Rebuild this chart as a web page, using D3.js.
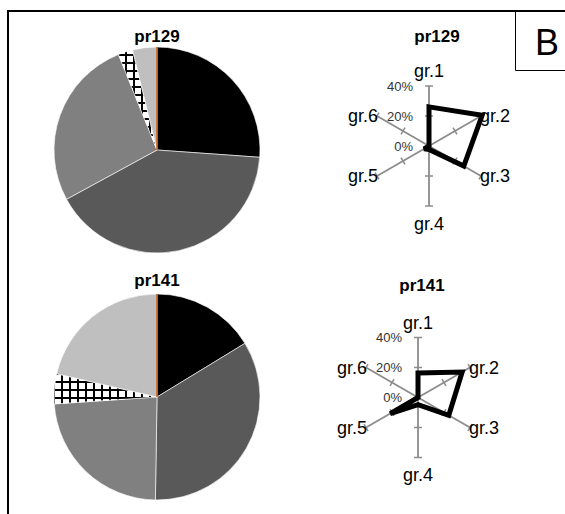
<!DOCTYPE html>
<html><head><meta charset="utf-8">
<script src="https://cdn.jsdelivr.net/npm/d3@7"></script>
<style>body{margin:0;background:#fff}svg{display:block;font-family:"Liberation Sans",Arial,sans-serif}</style>
</head><body>
<svg id="c" width="565" height="514"></svg>
<script>
const groups = ["gr.1","gr.2","gr.3","gr.4","gr.5","gr.6"];
const samples = ["pr129","pr141"];
const pr129 = [26.1, 40.9, 26.8, 2.3, 3.8, 0];
const pr141 = [16.3, 34.0, 23.7, 4.7, 21.4, 0];
const radialTicks = [0, 20, 40];
const panelLetter = "B";

const seriesBySample = {pr129, pr141};
const sliceFill = ["#000000","#595959","#808080","url(#hatch)","#bfbfbf","none"];

const svg = d3.select("#c");
const defs = svg.append("defs");
const pat = defs.append("pattern").attr("id","hatch").attr("patternUnits","userSpaceOnUse")
  .attr("width",8).attr("height",8);
pat.append("rect").attr("width",8).attr("height",8).attr("fill","#fff");
pat.append("path").attr("d","M1,0V8M0,1H8").attr("stroke","#000").attr("stroke-width",2);

// frame
svg.append("path").attr("d","M8,600V11H570").attr("fill","none").attr("stroke","#000").attr("stroke-width",2);
svg.append("path").attr("d","M515.5,11V70.5H570").attr("fill","none").attr("stroke","#000").attr("stroke-width",1);
svg.append("text").attr("x",547).attr("y",55).attr("text-anchor","middle").attr("font-size",36).text(panelLetter);

const layout = [
  {pie:[157,150], pieTitle:[157,42], radar:[429,146], radarTitle:[437,42]},
  {pie:[157,397], pieTitle:[157,286], radar:[418,397.5], radarTitle:[422,291]}
];

const pie = d3.pie().sort(null).value(d=>d.v).startAngle(0).endAngle(2*Math.PI);
const arc = d3.arc().innerRadius(0).outerRadius(103);
const rScale = d3.scaleLinear().domain([0,40]).range([0,60]);
const angle = i => i*Math.PI/3;

samples.forEach((s,k)=>{
  const L = layout[k];
  const vals = seriesBySample[s];
  const data = groups.map((g,i)=>({g, v:vals[i], i}));
  // pie
  const gp = svg.append("g").attr("transform",`translate(${L.pie})`);
  gp.selectAll("path").data(pie(data)).join("path")
    .attr("d",arc)
    .attr("fill",d=>sliceFill[d.data.i])
    .attr("stroke",d=>d.data.v===0?"#c55a11":"#fff")
    .attr("stroke-width",d=>d.data.v===0?1:0.6);
  svg.append("text").attr("x",L.pieTitle[0]).attr("y",L.pieTitle[1]).attr("text-anchor","middle")
    .attr("font-weight","bold").attr("font-size",17).text(s);
  // radar
  const gr = svg.append("g").attr("transform",`translate(${L.radar})`);
  const pt = (i,v)=>[Math.sin(angle(i))*rScale(v), -Math.cos(angle(i))*rScale(v)];
  groups.forEach((g,i)=>{
    const a = angle(i);
    const [ex,ey] = pt(i,40);
    gr.append("line").attr("x1",0).attr("y1",0).attr("x2",ex).attr("y2",ey)
      .attr("stroke","#8c8c8c").attr("stroke-width",1.8);
    radialTicks.filter(t=>t>0).forEach(t=>{
      const [tx,ty] = pt(i,t);
      const px = Math.cos(a)*4, py = Math.sin(a)*4;
      gr.append("line").attr("x1",tx-px).attr("y1",ty-py).attr("x2",tx+px).attr("y2",ty+py)
        .attr("stroke","#8c8c8c").attr("stroke-width",1.5);
    });
  });
  radialTicks.forEach(t=>{
    gr.append("text").attr("x",-16).attr("y",-rScale(t)).attr("dy","0.35em")
      .attr("text-anchor","end").attr("font-size",13).attr("fill","#333").text(t+"%");
  });
  const line = d3.line().curve(d3.curveLinearClosed);
  gr.append("path").attr("d",line(vals.map((v,i)=>pt(i,v))))
    .attr("fill","none").attr("stroke","#000").attr("stroke-width",5)
    .attr("stroke-linejoin","miter").attr("stroke-miterlimit",2);
  groups.forEach((g,i)=>{
    const [ex,ey] = pt(i,40);
    let x=ex, y=ey, anchor="middle", dy="0.35em";
    if(i===0){ y=ey-9; dy="0"; }
    else if(i===3){ y=ey+11; dy="0.7em"; }
    else if(i<3){ anchor="start"; x=ex-1; }
    else { anchor="end"; x=ex+1; }
    gr.append("text").attr("x",x).attr("y",y).attr("dy",dy).attr("text-anchor",anchor)
      .attr("font-size",18).attr("fill","#000").text(g);
  });
  svg.append("text").attr("x",L.radarTitle[0]).attr("y",L.radarTitle[1]).attr("text-anchor","middle")
    .attr("font-weight","bold").attr("font-size",17).text(s);
});
</script>
</body></html>
